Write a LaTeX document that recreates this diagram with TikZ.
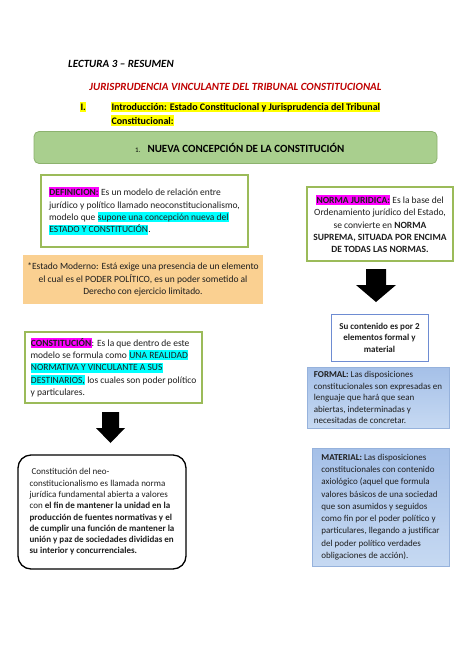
\documentclass[tikz,border=0pt]{standalone}
\usepackage{fontspec}
\setmainfont{Carlito}
\definecolor{titlered}{RGB}{192,0,0}
\definecolor{boxgreen}{RGB}{155,187,89}
\definecolor{greenfill}{RGB}{169,207,142}
\definecolor{greenline}{RGB}{140,178,110}
\definecolor{orangefill}{RGB}{250,208,145}
\definecolor{blueline}{RGB}{110,140,210}
\definecolor{lightblueline}{RGB}{150,178,220}
\definecolor{bluetop}{RGB}{165,192,232}
\definecolor{bluebot}{RGB}{198,217,242}
\definecolor{txt}{RGB}{30,30,30}
\definecolor{hlmag}{RGB}{255,0,255}
\definecolor{hlcyan}{RGB}{0,255,255}
\definecolor{hlyel}{RGB}{255,255,0}
\newcommand\hlb[2]{{\setlength{\fboxsep}{0.3pt}\colorbox{#1}{\vphantom{Áy}#2}}}
\tikzset{
  greenbox/.style={draw=boxgreen, line width=1.1pt, fill=white, inner sep=0pt},
  bodytext/.style={text=txt, font=\fontsize{9.5}{12.4}\selectfont},
  smalltext/.style={text=txt, font=\fontsize{9}{11.5}\selectfont},
  bluebox/.style={draw=lightblueline, line width=0.7pt, top color=bluetop, bottom color=bluebot, inner sep=0pt},
}
\begin{document}
\begin{tikzpicture}[x=1pt,y=-1pt]
\fill[white] (0,0) rectangle (474,670);
\path[use as bounding box] (0,0) rectangle (474,670);

% headings
\node[anchor=base west, inner sep=0pt, font=\fontsize{11}{13}\selectfont\bfseries\itshape] (lect) at (68,67.5) {LECTURA 3 – RESUMEN};
\node[anchor=base, inner sep=0pt, text=titlered, font=\fontsize{11}{13}\selectfont\bfseries\itshape] (juris) at (235.5,90) {JURISPRUDENCIA VINCULANTE DEL TRIBUNAL CONSTITUCIONAL};
\node[anchor=base west, inner sep=0pt, font=\fontsize{10}{13}\selectfont\bfseries] (num) at (80,110.5) {\hlb{hlyel}{I.}};
\node[anchor=base west, inner sep=0pt, font=\fontsize{10}{13}\selectfont\bfseries] (intro1) at (111,110.5) {\hlb{hlyel}{Introducción: Estado Constitucional y Jurisprudencia del Tribunal}};
\node[anchor=base west, inner sep=0pt, font=\fontsize{10}{13}\selectfont\bfseries] (intro2) at (111,124) {\hlb{hlyel}{Constitucional:}};

% green banner
\node[draw=greenline, line width=0.8pt, fill=greenfill, rounded corners=5pt, minimum width=403pt, minimum height=32pt, inner sep=0pt] (nueva) at (235.5,147.5) {};
\node[inner sep=0pt, anchor=base west] (nuevatxt) at (135,152) {{\fontsize{7}{8}\selectfont 1.}\hspace{7pt}{\fontsize{11}{13}\selectfont\bfseries NUEVA CONCEPCIÓN DE LA CONSTITUCIÓN}};

% DEFINICION
\node[greenbox, bodytext, minimum width=207pt, minimum height=72pt, align=left] (def) at (144.5,211) {%
\hlb{hlmag}{\bfseries DEFINICION:} Es un modelo de relación entre\\
jurídico y político llamado neoconstitucionalismo,\\
modelo que \hlb{hlcyan}{supone una concepción nueva del}\\
\hlb{hlcyan}{ESTADO Y CONSTITUCIÓN}.};

% NORMA JURIDICA
\node[greenbox, bodytext, minimum width=146pt, minimum height=74pt, align=center] (norma) at (380,224) {%
\hlb{hlmag}{\bfseries NORMA JURIDICA:} Es la base del\\
Ordenamiento jurídico del Estado,\\
se convierte en \textbf{NORMA}\\
\textbf{SUPREMA, SITUADA POR ENCIMA}\\
\textbf{DE TODAS LAS NORMAS.}};

% Estado Moderno
\node[fill=orangefill, bodytext, minimum width=240pt, minimum height=49pt, align=center, inner sep=0pt] (estado) at (143,279.5) {%
*Estado Moderno: Está exige una presencia de un elemento\\
el cual es el PODER POLÍTICO, es un poder sometido al\\
Derecho con ejercicio limitado.};

% right arrow
\fill[black] (366,269) -- (386,269) -- (386,285) -- (396,285) -- (376,302) -- (356,285) -- (366,285) -- cycle;

% Su contenido
\node[draw=blueline, line width=0.9pt, fill=white, smalltext, font=\fontsize{9}{11.5}\selectfont\bfseries, minimum width=97pt, minimum height=47pt, align=center, inner sep=0pt] (cont) at (379.5,337.5) {%
Su contenido es por 2\\
elementos formal y\\
material};

% CONSTITUCION
\node[greenbox, bodytext, minimum width=177pt, minimum height=71pt, align=left] (const) at (113.5,367.5) {%
\hlb{hlmag}{\bfseries CONSTITUCIÓN}: Es la que dentro de este\\
modelo se formula como \hlb{hlcyan}{UNA REALIDAD}\\
\hlb{hlcyan}{NORMATIVA Y VINCULANTE A SUS}\\
\hlb{hlcyan}{DESTINARIOS,} los cuales son poder político\\
y particulares.};

% FORMAL
\node[bluebox, smalltext, minimum width=142pt, minimum height=61pt, align=left] (formal) at (378,397.5) {%
\textbf{FORMAL:} Las disposiciones\\
constitucionales son expresadas en\\
lenguaje que hará que sean\\
abiertas, indeterminadas y\\
necesitadas de concretar.};

% left arrow
\fill[black] (102,412) -- (119,412) -- (119,428) -- (125,428) -- (110.5,443) -- (96,428) -- (102,428) -- cycle;

% MATERIAL
\node[bluebox, text=txt, font=\fontsize{9}{12.3}\selectfont, minimum width=137pt, minimum height=118pt, align=left] (material) at (380.5,507) {%
\textbf{MATERIAL:} Las disposiciones\\
constitucionales con contenido\\
axiológico (aquel que formula\\
valores básicos de una sociedad\\
que son asumidos y seguidos\\
como fin por el poder político y\\
particulares, llegando a justificar\\
del poder político verdades\\
obligaciones de acción).};

% rounded box
\node[draw=black, line width=1.3pt, fill=white, rounded corners=13pt, text=txt, font=\fontsize{9}{11.3}\selectfont, minimum width=168pt, minimum height=114pt, align=left, inner sep=0pt] (neo) at (102,512) {%
\hspace*{2pt}Constitución del neo-\\
constitucionalismo es llamada norma\\
jurídica fundamental abierta a valores\\
con \textbf{el fin de mantener la unidad en la}\\
\textbf{producción de fuentes normativas y el}\\
\textbf{de cumplir una función de mantener la}\\
\textbf{unión y paz de sociedades divididas en}\\
\textbf{su interior y concurrenciales.}};
\end{tikzpicture}
\end{document}
